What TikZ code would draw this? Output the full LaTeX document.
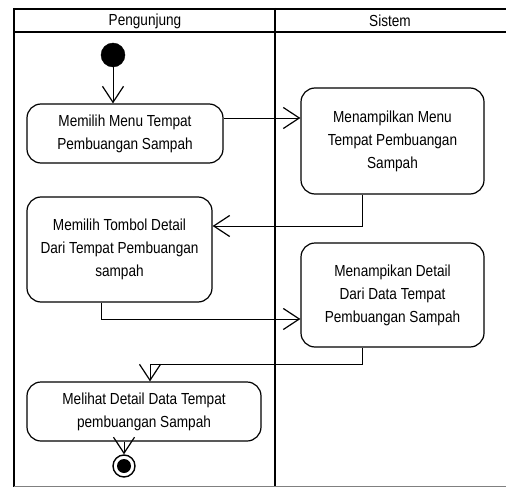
\documentclass[tikz,border=0pt]{standalone}
\usepackage{fontspec}
\setmainfont{Liberation Sans}[FakeStretch=0.85]
\usepackage{tikz}
\usetikzlibrary{arrows.meta}
\def\txt{\fontsize{16}{23}\selectfont}

\begin{document}
\begin{tikzpicture}[x=1pt, y=-1pt,
    act/.style={draw, line width=1.2pt, rounded corners=14pt, align=center, font=\txt, inner sep=0pt},
    flow/.style={line width=1pt, -{Straight Barb[length=16pt, width=21pt, line width=1.2pt]}}]
          \useasboundingbox (0,0) rectangle (506,487);
          \draw[line width=2.6pt] (14,9) -- (506,9);
          \draw[line width=2pt] (14,32) -- (506,32);
          \foreach \x in {14,275}{
            \draw[line width=2pt] (\x,8) -- (\x,487);
          }
          \draw[gray, line width=0.8pt] (14,486) -- (506,486);
          \node[font=\txt] (lane1) at (145,21) {Pengunjung};
          \node[font=\txt] (lane2) at (390,21) {Sistem};
          \node[circle, fill=black, draw, minimum size=24pt, inner sep=0pt] (start) at (113,55) {};
          \node[act, minimum width=196pt, minimum height=59pt] (a1) at (125,133.5) {Memilih Menu Tempat\\Pembuangan Sampah};
          \node[act, minimum width=183pt, minimum height=106pt] (s1) at (392.5,141) {Menampilkan Menu\\Tempat Pembuangan\\Sampah};
          \node[act, minimum width=185pt, minimum height=105pt] (a2) at (119.5,249.5) {Memilih Tombol Detail\\Dari Tempat Pembuangan\\sampah};
          \node[act, minimum width=183pt, minimum height=104pt] (s2) at (392.5,295) {Menampikan Detail\\Dari Data Tempat\\Pembuangan Sampah};
          \node[act, minimum width=234pt, minimum height=59pt] (a3) at (144,411.5) {Melihat Detail Data Tempat\\pembuangan Sampah};
          \node[circle, draw, line width=1.4pt, minimum size=22pt, inner sep=0pt] (end) at (124,466) {};
          \fill (end) circle (7pt);
          \draw[flow] (start) -- (start |- a1.north);
          \draw[flow] ([yshift=15.5pt]a1.east) -- ([yshift=15.5pt]a1.east -| s1.west);
          \draw[flow] ([xshift=-30.5pt]s1.south) |- ([yshift=23.5pt]a2.east);
          \draw[flow] ([xshift=-18.5pt]a2.south) |- ([yshift=-24pt]s2.west);
          \draw[flow] ([xshift=-30.5pt]s2.south) -- ++(0,17) -| ([xshift=6pt]a3.north);
          \draw[flow] ([xshift=-20pt]a3.south) -- (end);
        \end{tikzpicture}
\end{document}
